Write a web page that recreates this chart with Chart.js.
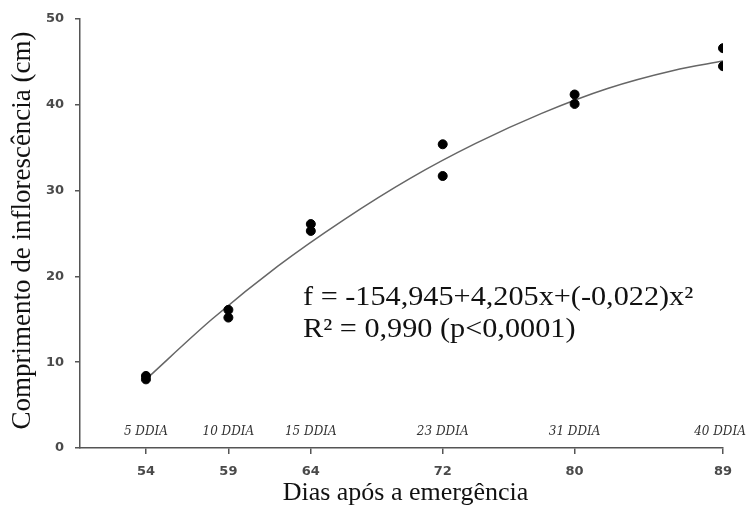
<!DOCTYPE html>
<html>
<head>
<meta charset="utf-8">
<script src="https://cdn.jsdelivr.net/npm/chart.js@4"></script>
<style>
  html, body { margin: 0; padding: 0; background: #fff; }
  #wrap { width: 753px; height: 513px; }
</style>
</head>
<body>
<div id="wrap"><canvas id="chart" width="753" height="513"></canvas></div>
<script>
// Observed points (two replicates per day)
const obsDays = [54, 54, 59, 59, 64, 64, 72, 72, 80, 80, 89, 89];
const obsLength = [8.0, 8.4, 16.1, 15.2, 26.1, 25.3, 35.4, 31.7, 41.2, 40.1, 46.6, 44.5];

// Fitted curve
const fitDays = [54, 58, 62, 66, 70, 74, 78, 82, 86, 89];
const fitLength = [8.0, 15.0, 21.2, 26.6, 31.4, 35.5, 39.0, 41.9, 44.0, 45.1];

// x ticks and the DDIA labels above them
const dayTicks = [54, 59, 64, 72, 80, 89];
const ddiaLabels = ['5 DDIA', '10 DDIA', '15 DDIA', '23 DDIA', '31 DDIA', '40 DDIA'];

const equationLines = ['f = -154,945+4,205x+(-0,022)x\u00B2', 'R\u00B2 = 0,990 (p<0,0001)'];

const axisColor = '#555';
const tickFont = { family: '"DejaVu Sans"', size: 13, weight: 'bold' };

// draw text squeezed/stretched horizontally
function stretchText(ctx, text, x, y, sx) {
    ctx.save();
    ctx.translate(x, y);
    ctx.scale(sx, 1);
    ctx.fillText(text, 0, 0);
    ctx.restore();
}

const annotations = {
    id: 'annotations',
    afterDraw(chart) {
        const ctx = chart.ctx;
        const x = chart.scales.x;
        const area = chart.chartArea;
        ctx.save();

        // DDIA labels
        ctx.fillStyle = '#333';
        ctx.font = 'italic 12px "DejaVu Serif"';
        ctx.textAlign = 'center';
        ctx.textBaseline = 'alphabetic';
        dayTicks.forEach((d, i) => {
            let px = x.getPixelForValue(d);
            if (i === dayTicks.length - 1) px -= 3;
            ctx.fillText(ddiaLabels[i], px, 435);
        });

        // regression equation
        ctx.fillStyle = '#111';
        ctx.font = '27px "Liberation Serif"';
        ctx.textAlign = 'left';
        stretchText(ctx, equationLines[0], 303, 305, 1.12);
        stretchText(ctx, equationLines[1], 303, 337, 1.12);

        // axis titles
        ctx.font = '26px "Liberation Serif"';
        ctx.textAlign = 'center';
        ctx.fillText('Dias após a emergência', (area.left + area.right) / 2 + 4, 500);
        ctx.save();
        ctx.translate(30, (area.top + area.bottom) / 2 - 3);
        ctx.rotate(-Math.PI / 2);
        ctx.font = '27px "Liberation Serif"';
        ctx.fillText('Comprimento de inflorescência (cm)', 0, 0);
        ctx.restore();

        ctx.restore();
    }
};

new Chart(document.getElementById('chart'), {
    type: 'scatter',
    data: {
        datasets: [
            {
                label: 'observado',
                data: obsDays.map((d, i) => ({ x: d, y: obsLength[i] })),
                backgroundColor: '#000',
                borderColor: '#000',
                pointRadius: 4.5,
                order: 1
            },
            {
                label: 'ajuste',
                type: 'line',
                data: fitDays.map((d, i) => ({ x: d, y: fitLength[i] })),
                borderColor: '#666',
                borderWidth: 1.5,
                pointRadius: 0,
                fill: false,
                cubicInterpolationMode: 'monotone',
                order: 2
            }
        ]
    },
    options: {
        responsive: false,
        animation: false,
        layout: { padding: { top: 19, right: 30, left: 0, bottom: 0 } },
        plugins: {
            legend: { display: false },
            tooltip: { enabled: false }
        },
        scales: {
            x: {
                type: 'linear',
                min: 50,
                max: 89,
                afterBuildTicks(scale) {
                    scale.ticks = dayTicks.map(v => ({ value: v }));
                },
                afterFit(scale) { scale.height = 65; },
                border: { color: axisColor, width: 1.5 },
                grid: { drawOnChartArea: false, tickLength: 6, color: axisColor, lineWidth: 1.5 },
                ticks: { color: '#4a4a4a', padding: 10, font: tickFont }
            },
            y: {
                min: 0,
                max: 50,
                afterFit(scale) { scale.width = 80; },
                border: { color: axisColor, width: 1.5 },
                grid: { drawOnChartArea: false, tickLength: 5, color: axisColor, lineWidth: 1.5 },
                ticks: { stepSize: 10, color: '#4a4a4a', padding: 11, font: tickFont }
            }
        }
    },
    plugins: [annotations]
});
</script>
</body>
</html>
